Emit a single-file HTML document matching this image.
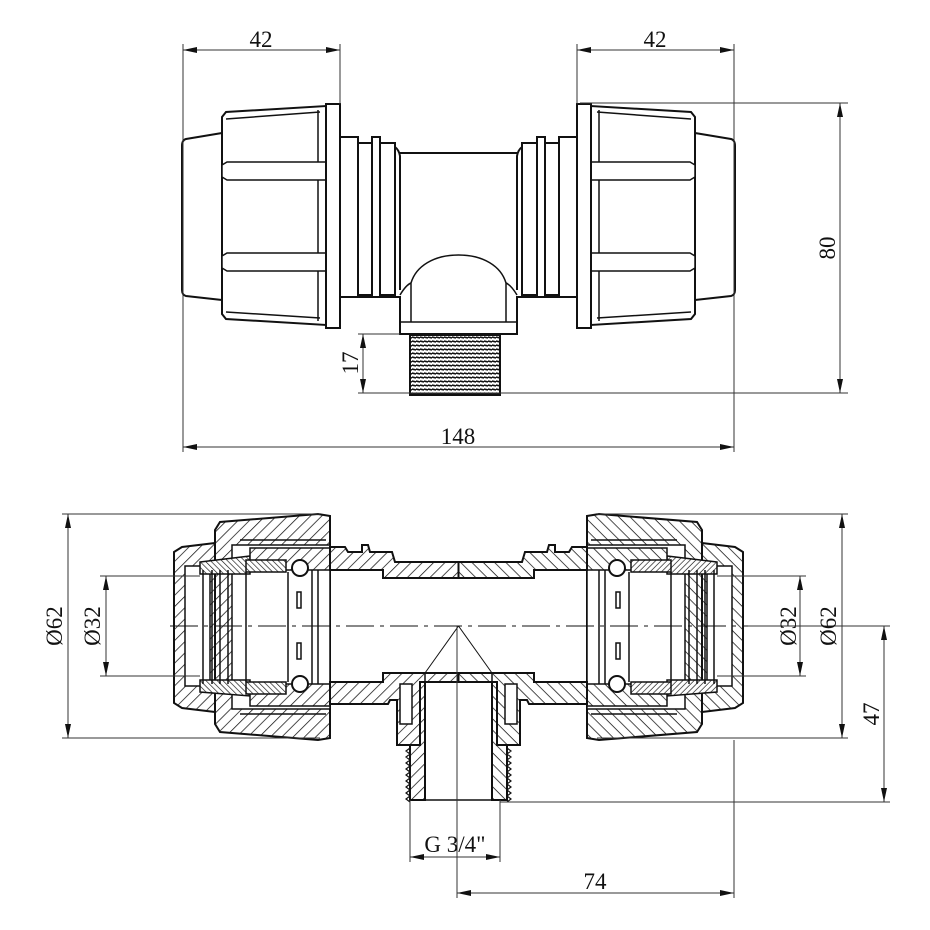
<!DOCTYPE html>
<html><head><meta charset="utf-8"><style>
html,body{margin:0;padding:0;background:#fff;}
svg{display:block;}
text{font-family:"Liberation Serif",serif;font-size:23px;fill:#111;}
</style></head><body>
<svg width="930" height="930" viewBox="0 0 930 930" xmlns="http://www.w3.org/2000/svg">
<defs>
<pattern id="h" patternUnits="userSpaceOnUse" width="8" height="8" patternTransform="rotate(45)">
<rect width="8" height="8" fill="#fff"/><line x1="0" y1="0" x2="0" y2="8" stroke="#111" stroke-width="1.5"/></pattern>
<pattern id="h2" patternUnits="userSpaceOnUse" width="4" height="4" patternTransform="rotate(-45)">
<rect width="4" height="4" fill="#fff"/><line x1="0" y1="0" x2="0" y2="4" stroke="#111" stroke-width="1.3"/></pattern>
<pattern id="th" patternUnits="userSpaceOnUse" width="4" height="4">
<rect width="4" height="4" fill="#fff"/><line x1="0" y1="1" x2="4" y2="2" stroke="#111" stroke-width="1.6"/></pattern>
<marker id="a" markerWidth="14" markerHeight="6" refX="14" refY="3" orient="auto" markerUnits="userSpaceOnUse"><path d="M0,0 L14,3 L0,6 Z" fill="#111"/></marker>
<marker id="b" markerWidth="14" markerHeight="6" refX="0" refY="3" orient="auto" markerUnits="userSpaceOnUse"><path d="M14,0 L0,3 L14,6 Z" fill="#111"/></marker>
<g id="topL" fill="#fff" stroke="#111" stroke-width="2">
<path d="M222,133 L186,139 Q182,140 182,146 L182,290 Q182,295 186,296 L222,300 Z"/>
<path d="M222,117 L226,112 L326,106 L326,325 L226,319 L222,314 Z"/>
<path d="M226,119 L320,112 M226,312 L320,318" fill="none" stroke-width="1.5"/>
<line x1="318" y1="110" x2="318" y2="321" stroke-width="1.5"/>
<path d="M222,165 L227,162 L326,162 L326,180 L227,180 L222,177 Z" stroke-width="1.5"/>
<path d="M222,256 L227,253 L326,253 L326,271 L227,271 L222,268 Z" stroke-width="1.5"/>
<rect x="326" y="104" width="14" height="224"/>
<rect x="340" y="137" width="18" height="160"/>
<rect x="358" y="143" width="14" height="152"/>
<rect x="372" y="137" width="8" height="160"/>
<rect x="380" y="143" width="15" height="152"/>
<path d="M395,147 Q399,150 400,156 L400,290" fill="none"/>
<path d="M400,153 L458.5,153" fill="none"/>
<path d="M340,297 L400,297 L400,334 L458.5,334" fill="none"/>
<path d="M400,322 L458.5,322" fill="none" stroke-width="1.5"/>
<path d="M411,322 L411,283 C416,266 434,255 458.5,255" fill="none" stroke-width="1.5"/>
<path d="M400,295 Q406,285 411,283" fill="none" stroke-width="1.5"/>
</g>
<g id="botL" stroke="#111" stroke-width="2">
<path d="M174,552 L182,547 L215,543 L215,712 L182,708 L174,703 Z" fill="url(#h)"/>
<rect x="185" y="566" width="25" height="120" fill="#fff" stroke-width="1.5"/>
<path d="M215,530 L220,522 L318,514 L330,516 L330,738 L318,740 L220,732 L215,724 Z" fill="url(#h)"/>
<rect x="232" y="545" width="98" height="164" fill="#fff" stroke-width="1.5"/>
<line x1="240" y1="540" x2="326" y2="540" stroke-width="1.5"/>
<line x1="240" y1="714" x2="326" y2="714" stroke-width="1.5"/>
<path d="M200,562 L250,556 L250,574 L200,574 Z" fill="url(#h2)" stroke-width="1.5"/>
<path d="M200,680 L250,680 L250,696 L200,692 Z" fill="url(#h2)" stroke-width="1.5"/>
<rect x="250" y="548" width="80" height="22" fill="url(#h)" stroke-width="1.5"/>
<rect x="250" y="684" width="80" height="22" fill="url(#h)" stroke-width="1.5"/>
<rect x="246" y="560" width="40" height="12" fill="url(#h2)" stroke-width="1.5"/>
<rect x="246" y="682" width="40" height="12" fill="url(#h2)" stroke-width="1.5"/>
<line x1="203" y1="570" x2="203" y2="684" stroke-width="1.5"/>
<line x1="212" y1="570" x2="212" y2="684" stroke-width="1.5"/>
<line x1="220" y1="570" x2="220" y2="684" stroke-width="1.5"/>
<line x1="228" y1="570" x2="228" y2="684" stroke-width="1.5"/>
<line x1="246" y1="572" x2="246" y2="682" stroke-width="1.5"/>
<line x1="288" y1="572" x2="288" y2="682" stroke-width="1.5"/>
<line x1="312" y1="570" x2="312" y2="684" stroke-width="1.5"/>
<line x1="318" y1="570" x2="318" y2="684" stroke-width="1.5"/>
<circle cx="300" cy="568" r="8" fill="#fff"/>
<circle cx="300" cy="684" r="8" fill="#fff"/>
<rect x="297" y="592" width="4" height="16" fill="#fff" stroke-width="1.5"/>
<rect x="297" y="643" width="4" height="16" fill="#fff" stroke-width="1.5"/>
<path d="M330,547 L345,547 L348,552 L362,552 L362,545 L368,545 L370,552 L392,552 L395,562 L458.5,562 L458.5,578 L383,578 L383,570 L330,570 Z" fill="url(#h)"/>
<path d="M330,682 L383,682 L383,673 L458.5,673 L458.5,682 L420,682 L420,745 L397,745 L397,700 L390,700 L388,704 L345,704 L330,704 Z" fill="url(#h)"/>
<rect x="400" y="684" width="12" height="40" fill="#fff" stroke-width="1.5"/>
<path d="M420,682 L425,682 L425,800 L410,800 L410,745 L420,745 Z" fill="url(#h)"/>
<path d="M410,748 l-4,3 l4,3 l-4,3 l4,3 l-4,3 l4,3 l-4,3 l4,3 l-4,3 l4,3 l-4,3 l4,3 l-4,3 l4,3 l-4,3 l4,3 l-4,3 l4,3" fill="none" stroke-width="1.2"/>
<line x1="425" y1="673" x2="425" y2="800" stroke-width="1.5"/>
<line x1="410" y1="800" x2="458.5" y2="800" stroke-width="1.5"/>
<line x1="458.5" y1="626" x2="425" y2="673" stroke-width="1"/>
</g>
</defs>

<use href="#topL"/>
<use href="#topL" transform="translate(917,0) scale(-1,1)"/>
<rect x="410" y="335" width="90" height="60" fill="url(#th)" stroke="#111" stroke-width="2"/>

<use href="#botL"/>
<use href="#botL" transform="translate(917,0) scale(-1,1)"/>
<line x1="170" y1="626" x2="748" y2="626" stroke="#111" stroke-width="1" stroke-dasharray="28,6,4,6"/>

<g stroke="#333" stroke-width="1" fill="none">
<line x1="183" y1="44" x2="183" y2="452"/><line x1="340" y1="44" x2="340" y2="104"/>
<line x1="577" y1="44" x2="577" y2="104"/><line x1="734" y1="44" x2="734" y2="452"/>
<line x1="183" y1="50" x2="340" y2="50" marker-start="url(#b)" marker-end="url(#a)"/>
<line x1="577" y1="50" x2="734" y2="50" marker-start="url(#b)" marker-end="url(#a)"/>
<line x1="183" y1="447" x2="734" y2="447" marker-start="url(#b)" marker-end="url(#a)"/>
<line x1="580" y1="103" x2="848" y2="103"/><line x1="358" y1="393" x2="848" y2="393"/>
<line x1="840" y1="103" x2="840" y2="393" marker-start="url(#b)" marker-end="url(#a)"/>
<line x1="358" y1="334" x2="400" y2="334"/>
<line x1="363" y1="334" x2="363" y2="393" marker-start="url(#b)" marker-end="url(#a)"/>

<line x1="62" y1="514" x2="320" y2="514"/><line x1="62" y1="738" x2="320" y2="738"/>
<line x1="100" y1="576" x2="200" y2="576"/><line x1="100" y1="676" x2="200" y2="676"/>
<line x1="68" y1="514" x2="68" y2="738" marker-start="url(#b)" marker-end="url(#a)"/>
<line x1="106" y1="576" x2="106" y2="676" marker-start="url(#b)" marker-end="url(#a)"/>
<line x1="597" y1="514" x2="848" y2="514"/><line x1="597" y1="738" x2="848" y2="738"/>
<line x1="717" y1="576" x2="806" y2="576"/><line x1="717" y1="676" x2="806" y2="676"/>
<line x1="842" y1="514" x2="842" y2="738" marker-start="url(#b)" marker-end="url(#a)"/>
<line x1="800" y1="576" x2="800" y2="676" marker-start="url(#b)" marker-end="url(#a)"/>
<line x1="748" y1="626" x2="890" y2="626"/><line x1="500" y1="802" x2="890" y2="802"/>
<line x1="884" y1="626" x2="884" y2="802" marker-start="url(#b)" marker-end="url(#a)"/>
<line x1="410" y1="800" x2="410" y2="862"/><line x1="500" y1="800" x2="500" y2="862"/>
<line x1="410" y1="857" x2="500" y2="857" marker-start="url(#b)" marker-end="url(#a)"/>
<line x1="457" y1="626" x2="457" y2="898"/><line x1="734" y1="740" x2="734" y2="898"/>
<line x1="457" y1="893" x2="734" y2="893" marker-start="url(#b)" marker-end="url(#a)"/>
</g>

<text x="261" y="47" text-anchor="middle">42</text>
<text x="655" y="47" text-anchor="middle">42</text>
<text x="458" y="444" text-anchor="middle">148</text>
<text transform="translate(835,248) rotate(-90)" text-anchor="middle">80</text>
<text transform="translate(358,363) rotate(-90)" text-anchor="middle">17</text>
<text transform="translate(62,626) rotate(-90)" text-anchor="middle">Ø62</text>
<text transform="translate(100,626) rotate(-90)" text-anchor="middle">Ø32</text>
<text transform="translate(796,626) rotate(-90)" text-anchor="middle">Ø32</text>
<text transform="translate(836,626) rotate(-90)" text-anchor="middle">Ø62</text>
<text transform="translate(879,714) rotate(-90)" text-anchor="middle">47</text>
<text x="455" y="852" text-anchor="middle">G 3/4"</text>
<text x="595" y="889" text-anchor="middle">74</text>
</svg>
</body></html>
